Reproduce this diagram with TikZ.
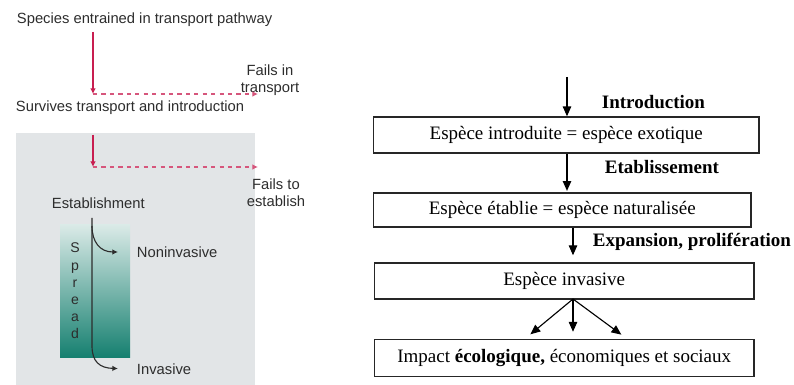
\documentclass[tikz,border=0pt]{standalone}
\usepackage{fontspec}
\setmainfont{Liberation Serif}
\setsansfont{Liberation Sans}
\usetikzlibrary{positioning,arrows.meta}
\definecolor{pathred}{RGB}{200,30,80}
\definecolor{boxgray}{RGB}{226,229,231}
\definecolor{spreadteal}{RGB}{22,128,112}
\definecolor{spreadmid}{RGB}{95,168,154}
\definecolor{spreadpale}{RGB}{218,234,231}
\definecolor{labelgray}{RGB}{45,45,45}
\tikzset{
  stage/.style={font=\sffamily\fontsize{10.5}{12}\selectfont, text=labelgray},
  fail/.style={stage, align=center},
  redarrow/.style={draw=pathred, line width=0.9pt, -{Latex[length=4pt,width=4pt]}},
  faildash/.style={redarrow, draw=pathred!75, dashed},
  fatearrow/.style={draw=labelgray, line width=0.8pt, -{Latex[length=4pt,width=4pt]}},
  sbox/.style={draw=black!85, line width=1pt, anchor=west, inner sep=0pt,
    font=\fontsize{13.5}{15}\selectfont},
  steplabel/.style={anchor=west, font=\bfseries\fontsize{13.5}{15}\selectfont},
  darr/.style={line width=0.8pt, -{Triangle[length=7pt,width=6pt]}}
}

\begin{document}
\begin{tikzpicture}[x=0.025cm, y=-0.025cm]
  \useasboundingbox (0,0) rectangle (794,385);

  \fill[boxgray] (16,133) rectangle (255,385);
  \shade[top color=spreadpale, middle color=spreadmid, bottom color=spreadteal] (60,225) rectangle (130,357);

  \node[stage, anchor=west] (entrained) at (12,20) {Species entrained in transport pathway};
  \node[stage, anchor=west] (survives) at (11,108) {Survives transport and introduction};
  \node[fail] (failtr) at (270,80) {Fails in\\transport};
  \node[fail] (failest) at (276,193) {Fails to\\establish};
  \node[stage, anchor=west] (establish) at (47,203) {Establishment};
  \node[stage, align=center, font=\sffamily\fontsize{10}{12.2}\selectfont] (spread) at (75,291) {S\\p\\r\\e\\a\\d};
  \node[stage, anchor=west] (noninv) at (132,252) {Noninvasive};
  \node[stage, anchor=west] (inv) at (132,369) {Invasive};

  \coordinate (turn1) at (93,94);
  \coordinate (end1) at (258,94);
  \coordinate (start2) at (93,135);
  \coordinate (turn2) at (93,167);
  \coordinate (end2) at (258,167);
  \coordinate (stem) at (92,218);
  \coordinate (fork) at (92,226);
  \coordinate (bend) at (92,346);

  \draw[redarrow] (entrained.south -| turn1) -- (turn1);
  \draw[faildash] (turn1) -- (end1);
  \draw[redarrow] (start2) -- (turn2);
  \draw[faildash] (turn2) -- (end2);

  \draw[fatearrow, shorten >=10pt] (stem) -- (bend) .. controls (92,362) and (100,368) .. (inv.west);
  \draw[fatearrow, shorten >=10pt] (fork) .. controls (92,242) and (100,252) .. (noninv.west);

  \node[sbox, minimum width=9.625cm, minimum height=0.9cm] (introduite) at (373,135) {Espèce introduite = espèce exotique};
  \node[sbox, minimum width=9.425cm, minimum height=0.85cm] (etablie) at (373,210) {Espèce établie = espèce naturalisée};
  \node[sbox, minimum width=9.475cm, minimum height=0.9cm] (invasive) at (374,281) {Espèce invasive};
  \node[sbox, minimum width=9.475cm, minimum height=0.925cm] (impact) at (374,358) {Impact \textbf{écologique,} économiques et sociaux};

  \node[steplabel] (lintro) at (597,102) {Introduction};
  \node[steplabel] (letab) at (600,167) {Etablissement};
  \node[steplabel] (lexp) at (588,242) {Expansion, prolifération};

  \coordinate (entry) at (567,77);
  \coordinate (fan) at (573,299);

  \draw[darr] (entry) -- (introduite.north -| entry);
  \draw[darr] (introduite.south -| entry) -- ([yshift=1pt]etablie.north -| entry);
  \draw[darr] (etablie.south -| fan) -- ([yshift=5pt]invasive.north -| fan);
  \draw[darr, shorten >=5pt] (fan) -- (impact.north -| 525,0);
  \draw[darr, shorten >=5pt] (fan) -- (impact.north -| fan);
  \draw[darr, shorten >=5pt] (fan) -- (impact.north -| 627,0);
\end{tikzpicture}
\end{document}
